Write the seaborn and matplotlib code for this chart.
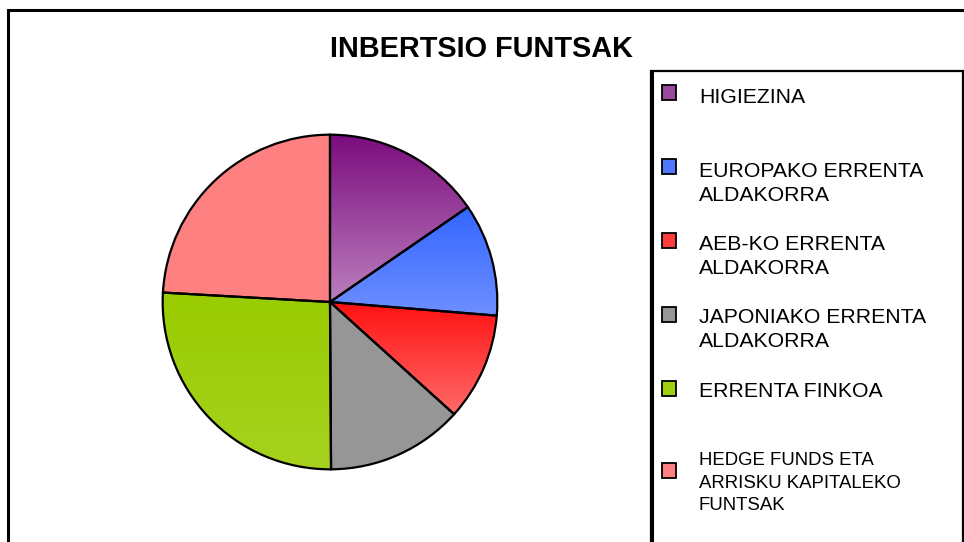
import numpy as np
import matplotlib
matplotlib.use("Agg")
import matplotlib.pyplot as plt
import matplotlib.patches as mpatches
import seaborn as sns

# ---- data ----
labels = [
    "HIGIEZINA",
    "EUROPAKO ERRENTA\nALDAKORRA",
    "AEB-KO ERRENTA\nALDAKORRA",
    "JAPONIAKO ERRENTA\nALDAKORRA",
    "ERRENTA FINKOA",
    "HEDGE FUNDS ETA\nARRISKU KAPITALEKO\nFUNTSAK",
]
values = [15.4, 10.9, 10.4, 13.2, 26.0, 24.1]
title = "INBERTSIO FUNTSAK"

# ---- style ----
top_colors = ["#7a0c7d", "#3366ff", "#ff1010", "#969696", "#99cc00", "#ff8080"]
bot_colors = ["#bb7fbe", "#6e8fff", "#ff6a6a", "#969696", "#a6d21f", "#ff8080"]
mid_colors = ["#9a4a9c", "#5078ff", "#ff3c3c", "#969696", "#a0cf10", "#ff8080"]

sns.set_theme(style="white")
plt.rcParams["font.family"] = ["Liberation Sans", "DejaVu Sans"]

W, H = 964, 542
fig = plt.figure(figsize=(W / 100, H / 100), dpi=100)
fig.patch.set_facecolor("white")

def fx(x):
    return x / W

def fy(y):
    return 1 - y / H

# outer border
fig.add_artist(mpatches.Rectangle((fx(8), fy(560)), fx(1000 - 8), (560 - 10) / H,
                                  transform=fig.transFigure, fill=False,
                                  edgecolor="black", linewidth=2.2, clip_on=False))

# title
fig.text(fx(481), fy(57.3), title, ha="center", va="baseline",
         fontsize=20.8, fontweight="bold", color="black")

# pie axes
cx, cy, r = 330, 302, 169
ax = fig.add_axes([fx(cx - r), fy(cy + r), 2 * r / W, 2 * r / H])
wedges, _ = ax.pie(values, colors=mid_colors, startangle=90, counterclock=False,
                   wedgeprops=dict(edgecolor="none", linewidth=0))

def hex2rgb(h):
    return np.array(matplotlib.colors.to_rgb(h))

for w, ct, cb in zip(wedges, top_colors, bot_colors):
    bb = w.get_path().get_extents(w.get_patch_transform())
    t = np.linspace(0, 1, 256)[:, None]
    grad = (1 - t) * hex2rgb(ct) + t * hex2rgb(cb)
    img = np.repeat(grad[:, None, :], 2, axis=1)
    im = ax.imshow(img, extent=[bb.x0, bb.x1, bb.y0, bb.y1], origin="upper",
                   aspect="auto", zorder=2, interpolation="bilinear")
    im.set_clip_path(w)

ax.pie(values, colors=["none"] * len(values), startangle=90, counterclock=False,
       wedgeprops=dict(facecolor="none", edgecolor="black", linewidth=1.6, zorder=5))
ax.set_xlim(-1.01, 1.01)
ax.set_ylim(-1.01, 1.01)
ax.set_aspect("auto")
ax.axis("off")

# legend box
fig.add_artist(mpatches.Rectangle((fx(651), fy(560)), fx(963 - 651), (560 - 71) / H,
                                  transform=fig.transFigure, fill=False,
                                  edgecolor="black", linewidth=1.6, clip_on=False))
fig.add_artist(plt.Line2D([fx(652), fx(652)], [fy(72), fy(542)],
                          transform=fig.transFigure, color="black", linewidth=2.2))

marker_top = [85, 159, 233, 307, 381, 463]
baseline_y = [103.3, 176.7, 250, 323, 397, 465]
sizes = [15.3, 15.3, 15.3, 15.3, 15.3, 13.4]
gaps = [24.5, 24.5, 24.0, 24.0, 24.0, 22.5]
for lab, mt, by, fs, gap, mc in zip(labels, marker_top, baseline_y, sizes, gaps, mid_colors):
    fig.add_artist(mpatches.Rectangle((fx(662), fy(mt + 15)), 14 / W, 15 / H,
                                      transform=fig.transFigure, facecolor=mc,
                                      edgecolor="black", linewidth=1.3))
    for i, line in enumerate(lab.split("\n")):
        fig.text(fx(699), fy(by + i * gap), line, ha="left", va="baseline",
                 fontsize=fs, color="black")

fig.savefig("out.png", dpi=100, facecolor="white")
